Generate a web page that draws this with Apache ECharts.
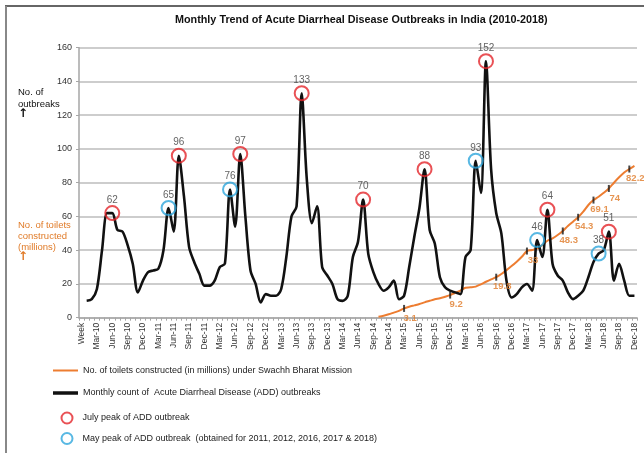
<!DOCTYPE html>
<html><head><meta charset="utf-8">
<script src="https://cdn.jsdelivr.net/npm/echarts@6/dist/echarts.min.js"></script>
<style>html,body{margin:0;padding:0;background:#fff}#c{width:644px;height:453px}</style>
</head><body><div id="c"></div>
<script>
// ---- data ----
const monthNames = ['Jan','Feb','Mar','Apr','May','Jun','Jul','Aug','Sep','Oct','Nov','Dec'];
const yearLabels = ['10','11','12','13','14','15','16','17','18'];
const categories = ['Week'];
yearLabels.forEach(y => monthNames.forEach(m => categories.push(m + '-' + y)));

// Monthly count of ADD outbreaks (index 0 = "Week" header slot)
const addOutbreaks = [null,
  10, 11, 17, 40, 62, 62, 52, 51, 43, 32, 15, 22,      // 2010
  27, 28, 29, 40, 65, 51, 96, 72, 42, 33, 26, 19,      // 2011
  19, 22, 30, 32, 76, 54, 97, 60, 28, 20, 9, 14,       // 2012
  13, 13, 17, 36, 60, 66, 133, 82, 56, 66, 30, 25,     // 2013
  20, 11, 10, 13, 36, 45, 70, 38, 27, 20, 16, 18,      // 2014
  22, 11, 13, 30, 48, 65, 88, 52, 44, 24, 18, 16,      // 2015
  15, 14, 36, 40, 93, 74, 152, 88, 62, 50, 22, 12,     // 2016
  14, 18, 20, 16, 46, 36, 64, 32, 25, 22, 15, 11,      // 2017
  13, 16, 24, 33, 38, 40, 51, 22, 32, 22, 13, 13       // 2018
];

// Toilets constructed (millions) under Swachh Bharat Mission, read against the left axis
const toilets = [null,
  null,null,null,null,null,null,null,null,null,null,null,null,
  null,null,null,null,null,null,null,null,null,null,null,null,
  null,null,null,null,null,null,null,null,null,null,null,null,
  null,null,null,null,null,null,null,null,null,null,null,null,
  null,null,null,null,null,null,null,null,null,0.6,1.2,2,
  3, 4, 5.5, 6.5, 7.3, 8.1, 9.1, 10, 10.9, 11.5, 12.4, 13.4,
  14.8, 16, 17.8, 18, 18.4, 19.8, 21.3, 22.7, 24, 25.9, 28.2, 30.6,
  33.2, 36.1, 39.5, 40.1, 41, 43, 45.6, 47, 49, 51.4, 54.3, 56.9,
  59.5, 62.8, 66.8, 69.7, 71.7, 74, 76.6, 80, 83.2, 86, 88.1, 90
];

const toiletTickIdx = [63, 72, 81, 87, 94, 97, 100, 103, 107];
const toiletTickLabels = ['3.1', '9.2', '19.8', '33', '48.3', '54.3', '69.1', '74', '82.2'];

const julyPeakIdx = [6, 19, 31, 43, 55, 67, 79, 91, 103];
const mayPeakIdx = [17, 29, 77, 89, 101];

const yTicks = [0, 20, 40, 60, 80, 100, 120, 140, 160];

// ---- chart ----
const SANS = "'Liberation Sans',Arial,sans-serif";
const S1 = 'No. of toilets constructed (in millions) under Swachh Bharat Mission';
const S2 = 'Monthly count of  Acute Diarrheal Disease (ADD) outbreaks';
const S3 = 'July peak of ADD outbreak';
const S4 = 'May peak of ADD outbreak  (obtained for 2011, 2012, 2016, 2017 & 2018)';
const RED = '#e3262b', BLUE = '#2ea6dc', ORANGE = '#ed7d31', ORANGE_TXT = '#e07b28';

const legendText = {fontFamily: SANS, fontSize: 9, color: '#222'};
const chart = echarts.init(document.getElementById('c'), null, {renderer: 'canvas'});
chart.setOption({
  animation: false,
  backgroundColor: '#fff',
  title: {
    text: 'Monthly Trend of Acute Diarrheal Disease Outbreaks in India (2010-2018)',
    left: 175, top: 15, padding: 0,
    textStyle: {fontFamily: SANS, fontSize: 10.8, fontWeight: 'bold', color: '#111'}
  },
  grid: {left: 79, right: 7, top: 47.7, bottom: 135.3},
  xAxis: {
    type: 'category', data: categories, boundaryGap: true,
    axisLine: {lineStyle: {color: '#a6a6a6', width: 1.5}},
    axisTick: {show: true, interval: 0, length: 3, lineStyle: {color: '#a6a6a6'}},
    axisLabel: {interval: 2, rotate: 90, fontSize: 8.5, color: '#333', margin: 5, fontFamily: SANS},
    splitLine: {show: false}
  },
  yAxis: {
    type: 'value', min: yTicks[0], max: yTicks[yTicks.length - 1], interval: yTicks[1] - yTicks[0],
    axisLine: {show: true, lineStyle: {color: '#a6a6a6', width: 1.5}},
    axisTick: {show: true, length: 3, lineStyle: {color: '#a6a6a6'}},
    axisLabel: {fontSize: 9, color: '#333', margin: 7, fontFamily: SANS},
    splitLine: {lineStyle: {color: '#bdbdbd', width: 1.5}}
  },
  legend: [
    {data: [{name: S1, icon: 'rect'}], left: 53, top: 366, padding: 0, itemWidth: 25, itemHeight: 2,
      textStyle: legendText, selectedMode: false},
    {data: [{name: S2, icon: 'rect'}], left: 53, top: 388.5, padding: 0, itemWidth: 25, itemHeight: 3.5,
      textStyle: legendText, selectedMode: false},
    {data: [{name: S3, icon: 'circle'}], left: 60.5, top: 411.5, padding: 0, itemWidth: 21, itemHeight: 11,
      itemStyle: {color: 'transparent', borderColor: RED, borderWidth: 2}, textStyle: legendText, selectedMode: false},
    {data: [{name: S4, icon: 'circle'}], left: 60.5, top: 432, padding: 0, itemWidth: 21, itemHeight: 11,
      itemStyle: {color: 'transparent', borderColor: BLUE, borderWidth: 2}, textStyle: legendText, selectedMode: false}
  ],
  series: [
    {
      name: S1, type: 'line', data: toilets, symbol: 'none', smooth: 0.3,
      lineStyle: {color: ORANGE, width: 2}, itemStyle: {color: ORANGE}, z: 2
    },
    {
      name: S2, type: 'line', data: addOutbreaks, symbol: 'none', smooth: 0.3,
      lineStyle: {color: '#111', width: 2.6}, itemStyle: {color: '#111'}, z: 3
    },
    {
      name: 'toiletTicks', type: 'scatter', z: 4,
      data: toiletTickIdx.map(i => [i, toilets[i]]),
      symbol: 'rect', symbolSize: [2, 7], itemStyle: {color: '#1a1a1a'},
      label: {show: true, position: 'bottom', distance: 1, offset: [6, 0],
        formatter: p => toiletTickLabels[p.dataIndex],
        color: ORANGE_TXT, fontSize: 9.5, fontWeight: 'bold', fontFamily: SANS}
    },
    {
      name: S3, type: 'scatter', z: 5,
      data: julyPeakIdx.map(i => [i, addOutbreaks[i]]),
      symbol: 'circle', symbolSize: 14,
      itemStyle: {color: 'transparent', borderColor: RED, borderWidth: 2},
      label: {show: true, position: 'top', distance: 0, formatter: p => p.value[1],
        color: '#3a3a3a', fontSize: 10, fontFamily: SANS}
    },
    {
      name: S4, type: 'scatter', z: 5,
      data: mayPeakIdx.map(i => [i, addOutbreaks[i]]),
      symbol: 'circle', symbolSize: 14,
      itemStyle: {color: 'transparent', borderColor: BLUE, borderWidth: 2},
      label: {show: true, position: 'top', distance: 0, formatter: p => p.value[1],
        color: '#3a3a3a', fontSize: 10, fontFamily: SANS}
    }
  ],
  graphic: [
    {type: 'line', shape: {x1: 5, y1: 6, x2: 644, y2: 6}, style: {stroke: '#333', lineWidth: 1.5}, silent: true},
    {type: 'line', shape: {x1: 6, y1: 6, x2: 6, y2: 453}, style: {stroke: '#888', lineWidth: 2}, silent: true},
    {type: 'text', left: 18, top: 87, silent: true,
      style: {text: 'No. of\noutbreaks', fill: '#111', font: "9.5px 'Liberation Sans',Arial", lineHeight: 11.5}},
    {type: 'text', left: 18, top: 108, silent: true,
      style: {text: '↑', fill: '#111', font: "bold 12px 'DejaVu Sans',sans-serif"}},
    {type: 'text', left: 18, top: 219.5, silent: true,
      style: {text: 'No. of toilets\nconstructed\n(millions)', fill: ORANGE_TXT, font: "9.5px 'Liberation Sans',Arial", lineHeight: 11}},
    {type: 'text', left: 18, top: 251, silent: true,
      style: {text: '↑', fill: ORANGE_TXT, font: "bold 12px 'DejaVu Sans',sans-serif"}}
  ]
});
</script>
</body></html>
